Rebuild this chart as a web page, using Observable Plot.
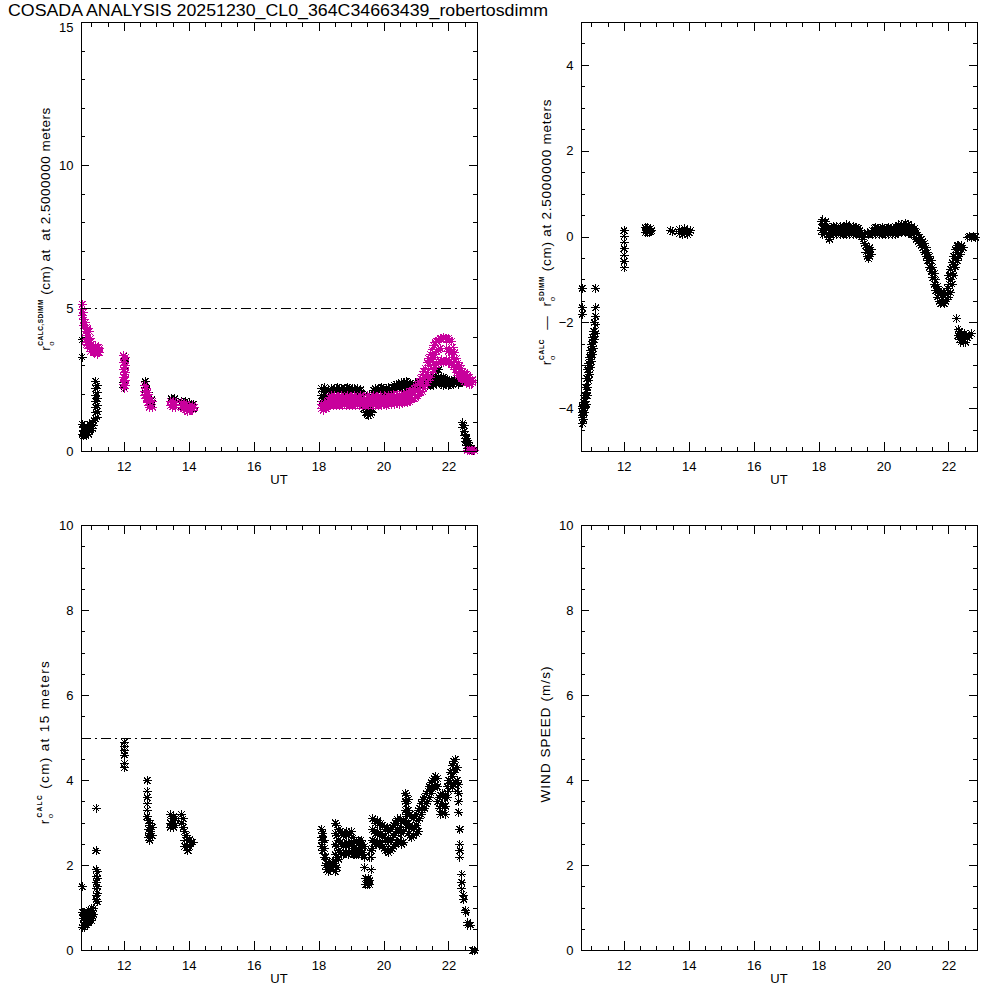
<!DOCTYPE html>
<html><head><meta charset="utf-8">
<script src="https://cdn.jsdelivr.net/npm/d3@7"></script>
<script src="https://cdn.jsdelivr.net/npm/@observablehq/plot@0.6"></script>
<style>
body{margin:0;background:#fff;}
#page{position:relative;width:1000px;height:1000px;background:#fff;overflow:hidden;}
.panel{position:absolute;}
</style></head><body><div id="page"></div>
<script>
// ---------------- data ----------------
const titleText = "COSADA ANALYSIS 20251230_CL0_364C34663439_robertosdimm";
const utDomain = [10.68, 22.88];
const utTicks = [12, 14, 16, 18, 20, 22];
const threshold = 5;

// r0 CALC at 2.5 m : [UT, values...]
const r0Calc25 = [
 [10.70, 3.9, 3.3, 0.95, 0.6],[10.74, 0.55, 0.75],[10.78, 0.6, 0.85, 0.7],[10.82, 0.55, 0.75],
 [10.86, 0.65, 0.85],[10.90, 0.6, 0.8],[10.94, 0.7, 0.95],[10.98, 0.75, 0.9],[11.02, 0.8, 1.0],
 [11.06, 0.9, 1.1],[11.12, 2.45, 2.2, 1.95, 1.75, 1.55, 1.35, 1.15],[11.16, 2.3, 2.05, 1.85, 1.6, 1.4, 1.2],
 [11.98, 3.35, 3.1, 2.85, 2.6, 2.4, 2.25],[12.02, 3.25, 3.0, 2.7, 2.5, 2.3],
 [12.64, 2.45, 2.25, 2.05],[12.69, 2.2, 2.0, 1.85],[12.74, 2.05, 1.85],[12.79, 1.9, 1.7],[12.84, 1.8, 1.65],
 [13.44, 1.85, 1.7],[13.50, 1.8, 1.65],[13.56, 1.85, 1.7],
 [13.76, 1.75, 1.6],[13.82, 1.7, 1.55],[13.88, 1.75, 1.6],[13.94, 1.65, 1.5],[14.00, 1.7, 1.55],
 [14.06, 1.6, 1.5],[14.12, 1.65, 1.5],
 [18.08, 2.2, 1.95, 1.75],[18.13, 2.1, 1.85],[18.18, 2.25, 2.0, 1.8],[18.23, 2.1, 1.9, 1.7],
 [18.28, 2.15, 1.85],[18.33, 2.05],[18.38, 2.1, 2.2],[18.43, 2.15, 2.05],[18.48, 2.2, 2.1],
 [18.53, 2.1, 2.2],[18.58, 2.15, 2.25],[18.63, 2.2, 2.1],[18.68, 2.1, 2.2],[18.73, 2.15, 2.05],
 [18.78, 2.2, 2.1],[18.83, 2.1, 2.2],[18.88, 2.15, 2.25],[18.93, 2.1, 2.2],[18.98, 2.15, 2.05],
 [19.03, 2.2, 2.1],[19.08, 2.1, 2.2],[19.13, 2.15, 2.05],[19.18, 2.2, 2.1],[19.23, 2.1, 2.15],
 [19.28, 2.05, 2.15],[19.33, 2.0, 1.9],[19.38, 1.95, 1.5],[19.43, 1.55, 1.35],[19.48, 1.5, 1.3, 1.6],
 [19.53, 1.4, 1.25, 1.55],[19.58, 1.45, 1.3],[19.63, 1.5, 1.35, 2.0],[19.68, 2.05, 2.15],
 [19.73, 2.1, 2.2],[19.78, 2.15, 2.05],[19.83, 2.2, 2.1],[19.88, 2.1, 2.2],[19.93, 2.15, 2.25],
 [19.98, 2.1, 2.2],[20.03, 2.15, 2.05],[20.08, 2.2, 2.1],[20.13, 2.1, 2.25],[20.18, 2.15, 2.2],
 [20.23, 2.2, 2.1],[20.28, 2.15, 2.25],[20.33, 2.2, 2.3],[20.38, 2.25, 2.35],[20.43, 2.3, 2.2],
 [20.48, 2.35, 2.25],[20.53, 2.3, 2.4],[20.58, 2.35, 2.25],[20.63, 2.4, 2.3],[20.68, 2.35, 2.45],
 [20.73, 2.3, 2.4],[20.78, 2.25, 2.35],[20.83, 2.2, 2.3],[20.88, 2.25, 2.35],[20.93, 2.2, 2.3],
 [20.98, 2.3, 2.4],[21.03, 2.25, 2.35],[21.08, 2.3, 2.4],[21.13, 2.35, 2.25],[21.18, 2.3, 2.45],
 [21.23, 2.4, 2.3],[21.28, 2.35, 2.5],[21.33, 2.4, 2.3],[21.38, 2.45, 2.35, 2.6],[21.43, 2.4, 2.3, 2.55],
 [21.48, 2.5, 2.35],[21.53, 2.45, 2.3, 2.65],[21.58, 2.4, 2.55],[21.63, 2.5, 2.35, 2.75],
 [21.68, 2.45, 2.6, 2.85],[21.73, 2.4, 2.55],[21.78, 2.35, 2.5],[21.83, 2.45, 2.3, 2.6],
 [21.88, 2.4, 2.55],[21.93, 2.35, 2.5],[21.98, 2.4, 2.3],[22.03, 2.45, 2.35],[22.08, 2.4, 2.5],
 [22.13, 2.45, 2.35],[22.18, 2.5, 2.4],[22.23, 2.4, 2.45],[22.28, 2.45, 2.35],[22.33, 2.4, 2.5],
 [22.38, 2.45, 2.4],[22.43, 2.4, 1.0, 0.85],[22.47, 0.9, 0.7, 0.55],[22.51, 0.6, 0.45, 0.35],
 [22.55, 0.45, 0.3, 0.2],[22.60, 0.3, 0.2, 0.1],[22.65, 0.2, 0.1],[22.70, 0.1, 0.05],[22.75, 0.05]
];

// r0 SDIMM at 2.5 m : [UT, values...]
const r0Sdimm25 = [
 [10.70, 5.15, 4.95, 4.75],[10.73, 4.85, 4.6, 4.4],[10.76, 4.6, 4.4],[10.80, 4.5, 4.2, 3.9],
 [10.84, 4.35, 4.05, 3.75],[10.88, 4.3, 4.0, 3.7],[10.92, 4.2, 3.9, 3.6],[10.96, 3.95, 3.7, 3.5],
 [11.00, 3.75, 3.55],[11.04, 3.65, 3.45],[11.08, 3.6, 3.45],[11.12, 3.7, 3.5],[11.16, 3.55, 3.4],
 [11.20, 3.65, 3.45],[11.24, 3.6, 3.45],
 [11.97, 3.35, 3.1, 2.85, 2.6, 2.35],[12.01, 3.2, 2.95, 2.7, 2.45, 2.2],[12.04, 3.3, 3.0, 2.75, 2.5, 2.3],
 [12.62, 2.3, 2.1, 1.95],[12.67, 2.2, 2.0, 1.85],[12.72, 2.05, 1.85, 1.7],[12.77, 1.9, 1.7, 1.55],
 [12.82, 1.8, 1.6],[12.87, 1.75, 1.55],
 [13.42, 1.75, 1.6],[13.47, 1.7, 1.55],[13.52, 1.75, 1.6],[13.57, 1.7, 1.55],
 [13.76, 1.7, 1.55],[13.81, 1.65, 1.5],[13.86, 1.6, 1.45],[13.91, 1.65, 1.5],[13.96, 1.55, 1.4],
 [14.01, 1.6, 1.45],[14.06, 1.55, 1.45],[14.11, 1.6, 1.45],[14.16, 1.55],
 [18.08, 1.5, 1.65],[18.13, 1.45, 1.6],[18.18, 1.55, 1.7],[18.23, 1.5, 1.6],[18.28, 1.55, 1.7],
 [18.33, 1.6, 1.75, 1.9],[18.38, 1.65, 1.8, 1.95],[18.43, 1.6, 1.75, 1.9],[18.48, 1.65, 1.8, 1.95],
 [18.53, 1.6, 1.75, 1.9],[18.58, 1.65, 1.8],[18.63, 1.6, 1.75, 1.9],[18.68, 1.65, 1.8, 1.95],
 [18.73, 1.6, 1.75, 1.9],[18.78, 1.65, 1.8],[18.83, 1.6, 1.75, 1.9],[18.88, 1.65, 1.8, 1.95],
 [18.93, 1.6, 1.75, 1.9],[18.98, 1.65, 1.8],[19.03, 1.6, 1.75, 1.9],[19.08, 1.65, 1.8, 1.95],
 [19.13, 1.6, 1.75, 1.9],[19.18, 1.65, 1.8],[19.23, 1.6, 1.75, 1.9],[19.28, 1.65, 1.8, 1.95],
 [19.33, 1.6, 1.75],[19.38, 1.65, 1.8, 1.9],[19.43, 1.6, 1.75],[19.48, 1.65, 1.8, 1.95],
 [19.53, 1.6, 1.75, 1.9],[19.58, 1.65, 1.8],[19.63, 1.6, 1.75, 1.9],[19.68, 1.65, 1.8, 1.95],
 [19.73, 1.6, 1.75, 1.9],[19.78, 1.65, 1.8],[19.83, 1.6, 1.75, 1.9],[19.88, 1.65, 1.8, 1.95],
 [19.93, 1.6, 1.75, 1.9],[19.98, 1.65, 1.8],[20.03, 1.65, 1.8, 1.95],[20.08, 1.6, 1.75, 1.9],
 [20.13, 1.65, 1.8, 1.95],[20.18, 1.7, 1.85],[20.23, 1.65, 1.8, 1.95],[20.28, 1.7, 1.85, 2.0],
 [20.33, 1.65, 1.8, 1.95],[20.38, 1.7, 1.85],[20.43, 1.7, 1.85, 2.0],[20.48, 1.65, 1.8, 1.95],
 [20.53, 1.7, 1.85, 2.0],[20.58, 1.75, 1.9],[20.63, 1.7, 1.85, 2.0],[20.68, 1.75, 1.9, 2.05],
 [20.73, 1.7, 1.85, 2.0],[20.78, 1.75, 1.9, 2.05],[20.83, 1.8, 1.95, 2.1],[20.88, 1.85, 2.0, 2.15],
 [20.93, 1.85, 2.05, 2.2],[20.98, 1.9, 2.1, 2.3],[21.03, 1.95, 2.15, 2.35],[21.08, 2.0, 2.2, 2.45],
 [21.13, 2.05, 2.3, 2.55],[21.18, 2.1, 2.4, 2.7],[21.23, 2.2, 2.5, 2.8],[21.28, 2.3, 2.6, 2.9],
 [21.33, 2.4, 2.75, 3.1],[21.38, 2.5, 2.85, 3.25],[21.43, 2.6, 3.0, 3.4],[21.48, 2.75, 3.15, 3.55],
 [21.53, 2.85, 3.3, 3.7],[21.58, 2.95, 3.4, 3.8],[21.63, 3.05, 3.5, 3.85],[21.68, 3.1, 3.55, 3.9],
 [21.73, 3.15, 3.6, 3.95],[21.78, 3.2, 3.95],[21.83, 3.1, 4.0],[21.88, 3.15, 3.95],
 [21.93, 3.2, 3.6, 3.9],[21.98, 3.1, 3.5, 3.95],[22.03, 3.15, 3.55, 3.9],[22.08, 3.05, 3.45, 3.85],
 [22.13, 2.95, 3.3, 3.65],[22.18, 2.85, 3.15, 3.45],[22.23, 2.75, 3.0, 3.25],[22.28, 2.65, 2.9, 3.1],
 [22.33, 2.6, 2.8, 3.0],[22.38, 2.55, 2.7, 2.9],[22.43, 2.5, 2.65, 2.8],[22.48, 2.45, 2.6, 2.75],
 [22.53, 2.4, 2.55, 2.7],[22.58, 2.4, 2.5, 2.65],[22.63, 2.35, 2.5, 2.6],[22.68, 2.35, 2.45],
 [22.73, 2.4, 2.5],
 [22.56, 0.04],[22.62, 0.05],[22.68, 0.03],[22.74, 0.05],[22.80, 0.03]
];

// r0 CALC - r0 SDIMM at 2.5 m : [UT, values...]
const r0Diff25 = [
 [10.70, -1.2, -1.65, -1.8, -3.95, -4.15],[10.72, -4.0, -4.2, -4.35, -4.1],[10.75, -3.85, -4.05, -4.25],
 [10.78, -3.7, -3.9, -4.1],[10.81, -3.5, -3.7, -3.9],[10.84, -3.3, -3.5, -3.7, -3.9],
 [10.87, -3.1, -3.3, -3.5, -3.7],[10.90, -2.95, -3.15, -3.35],[10.93, -2.8, -3.0, -3.2],
 [10.96, -2.65, -2.85, -3.05],[10.99, -2.5, -2.7, -2.9],[11.02, -2.35, -2.55, -2.75],
 [11.05, -2.2, -2.4, -2.6],[11.08, -2.0, -2.2, -2.4],[11.12, -1.2, -1.65, -1.85, -2.05, -2.25],
 [11.99, 0.15, 0.02, -0.12, -0.27, -0.42, -0.57, -0.72],
 [12.64, 0.22, 0.1],[12.68, 0.15, 0.2],[12.72, 0.1, 0.22],[12.76, 0.18, 0.1],[12.80, 0.2, 0.12],[12.84, 0.15],
 [13.42, 0.15],[13.48, 0.12],
 [13.70, 0.18, 0.08],[13.75, 0.12],[13.80, 0.15, 0.05],[13.85, 0.1, 0.2],[13.90, 0.12],[13.95, 0.15, 0.05],
 [14.00, 0.1],[14.04, 0.15],
 [18.08, 0.35, 0.15],[18.12, 0.4, 0.2, 0.05],[18.16, 0.3, 0.1],[18.20, 0.35, 0.15],[18.24, 0.25, 0.05],
 [18.28, 0.2, 0.0],[18.32, 0.1, -0.05],[18.36, 0.05, 0.15],[18.40, 0.1, 0.2],[18.45, 0.05, 0.15, 0.25],
 [18.50, 0.1, 0.2],[18.55, 0.05, 0.15, 0.25],[18.60, 0.1, 0.2],[18.65, 0.05, 0.15, 0.25],[18.70, 0.1, 0.2],
 [18.75, 0.05, 0.15, 0.25],[18.80, 0.1, 0.2],[18.85, 0.05, 0.15, 0.28],[18.90, 0.1, 0.2],
 [18.95, 0.05, 0.15, 0.25],[19.00, 0.1, 0.2],[19.05, 0.05, 0.15, 0.25],[19.10, 0.1, 0.2],
 [19.15, 0.05, 0.15, 0.22],[19.20, 0.1, 0.2],[19.25, 0.05, 0.15],[19.30, 0.0, 0.1],[19.35, 0.05, -0.05],
 [19.40, -0.15, 0.05],[19.44, -0.2, -0.35],[19.48, -0.25, -0.45, 0.1],[19.52, -0.3, -0.5, 0.05],
 [19.56, -0.25, -0.45],[19.60, -0.3, -0.4, 0.1],[19.65, 0.05, 0.15],[19.70, 0.1, 0.2],
 [19.75, 0.05, 0.15, 0.22],[19.80, 0.1, 0.2],[19.85, 0.05, 0.15],[19.90, 0.1, 0.2],
 [19.95, 0.05, 0.15, 0.22],[20.00, 0.1, 0.2],[20.05, 0.05, 0.15],[20.10, 0.1, 0.2],
 [20.15, 0.05, 0.15, 0.22],[20.20, 0.1, 0.2],[20.25, 0.05, 0.15],[20.30, 0.1, 0.2],
 [20.35, 0.05, 0.15, 0.25],[20.40, 0.1, 0.2],[20.45, 0.1, 0.2, 0.28],[20.50, 0.12, 0.22],
 [20.55, 0.1, 0.2, 0.3],[20.60, 0.15, 0.25],[20.65, 0.1, 0.22, 0.32],[20.70, 0.12, 0.25],
 [20.75, 0.1, 0.2, 0.3],[20.80, 0.1, 0.2],[20.85, 0.05, 0.15, 0.25],[20.90, 0.05, 0.15],
 [20.95, 0.0, 0.1, 0.2],[21.00, -0.05, 0.1],[21.05, -0.1, 0.05],[21.10, -0.15, 0.0],
 [21.15, -0.2, -0.05],[21.20, -0.25, -0.1],[21.25, -0.35, -0.15],[21.30, -0.45, -0.25],
 [21.35, -0.55, -0.35],[21.40, -0.7, -0.45],[21.45, -0.8, -0.55],[21.50, -0.95, -0.7],
 [21.55, -1.1, -0.85],[21.60, -1.25, -1.0],[21.65, -1.4, -1.15],[21.70, -1.5, -1.25],
 [21.75, -1.55, -1.3],[21.80, -1.5, -1.35],[21.85, -1.55, -1.3],[21.90, -1.5, -1.35],
 [21.95, -1.45, -1.2],[22.00, -1.4, -1.1, -0.9],[22.05, -1.3, -1.0, -0.75],[22.10, -1.1, -0.85, -0.6],
 [22.15, -0.9, -0.65, -0.45],[22.20, -0.7, -0.5, -0.3],[22.25, -0.55, -0.35, -0.2],
 [22.30, -0.45, -0.3, -0.2],[22.35, -0.4, -0.25],[22.40, -0.3, -0.2],[22.44, -0.25],
 [22.24, -1.9],[22.28, -2.15, -2.3],[22.32, -2.2, -2.4],[22.36, -2.3, -2.45],[22.40, -2.25, -2.4],
 [22.44, -2.3, -2.45],[22.48, -2.25, -2.4],[22.52, -2.3, -2.45],[22.56, -2.35],[22.62, -2.3],[22.70, -2.25],
 [22.58, 0.0],[22.64, 0.02],[22.70, 0.0],[22.76, 0.02],[22.82, 0.0]
];

// r0 CALC at 15 m : [UT, values...]
const r0Calc15 = [
 [10.70, 1.5, 0.9, 0.55],[10.73, 0.6, 0.75, 0.9],[10.76, 0.55, 0.7],[10.79, 0.6, 0.8],[10.82, 0.65, 0.85],
 [10.85, 0.6, 0.75, 0.9],[10.88, 0.7, 0.85],[10.91, 0.65, 0.8, 0.95],[10.94, 0.7, 0.85],[10.97, 0.75, 0.9],
 [11.00, 0.7, 0.85, 1.0],[11.03, 0.8, 0.95],[11.06, 0.85, 1.0],
 [11.13, 3.35, 2.35, 1.9, 1.75, 1.6, 1.45, 1.3, 1.2],[11.16, 1.85, 1.7, 1.5, 1.35, 1.15],
 [12.00, 4.9, 4.8, 4.7, 4.6, 4.4, 4.3],
 [12.70, 4.0, 3.75, 3.6, 3.45, 3.3, 3.15],[12.74, 3.05, 2.85, 2.65],[12.78, 2.95, 2.75, 2.6],
 [12.82, 3.0, 2.8, 2.65],[12.86, 2.9, 2.7],
 [13.42, 3.2, 3.0, 2.9],[13.47, 3.1, 2.95],[13.52, 3.15, 3.0, 2.9],[13.57, 3.1, 2.95],
 [13.76, 3.2, 3.0],[13.81, 3.1, 2.9],[13.86, 2.8, 2.6, 2.45],[13.91, 2.7, 2.5],[13.96, 2.65, 2.45, 2.35],
 [14.01, 2.6, 2.45],[14.06, 2.55, 2.5],[14.12, 2.55],
 [18.08, 2.85, 2.65, 2.45],[18.12, 2.75, 2.55, 2.35],[18.16, 2.6, 2.4, 2.2],[18.20, 2.2, 2.0],
 [18.24, 2.05, 1.9],[18.28, 2.0, 1.85],[18.32, 1.95, 2.1],[18.36, 1.9, 2.0],[18.40, 2.05, 1.95],
 [18.44, 2.0, 2.1],[18.50, 3.0, 2.75, 2.5, 2.25, 2.0, 1.85],[18.55, 2.95, 2.7, 2.45, 2.2, 1.95],
 [18.60, 2.85, 2.6, 2.35, 2.15],[18.65, 2.8, 2.55, 2.3],[18.70, 2.75, 2.5, 2.25],[18.75, 2.7, 2.45, 2.25],
 [18.80, 2.75, 2.5, 2.3],[18.85, 2.8, 2.55, 2.3],[18.90, 2.7, 2.45, 2.25],[18.95, 2.75, 2.5, 2.3],
 [19.00, 2.8, 2.55, 2.3],[19.05, 2.65, 2.4, 2.25],[19.10, 2.6, 2.4, 2.25],[19.15, 2.55, 2.35, 2.25],
 [19.20, 2.6, 2.4, 2.25],[19.25, 2.55, 2.35],[19.30, 2.6, 2.4, 2.25],[19.35, 2.5, 2.3],
 [19.40, 2.45, 2.2, 1.95],[19.44, 1.7, 1.55],[19.48, 1.65, 1.55],[19.52, 1.7, 1.6],
 [19.56, 1.65, 1.55, 2.2],[19.60, 2.35, 2.2, 1.9],[19.65, 3.1, 2.85, 2.6, 2.4],[19.70, 3.05, 2.8, 2.55],
 [19.75, 3.0, 2.75, 2.5],[19.80, 3.05, 2.8, 2.55],[19.85, 2.95, 2.7, 2.5],[19.90, 3.0, 2.75, 2.5],
 [19.95, 2.95, 2.7, 2.45],[20.00, 2.9, 2.65, 2.4],[20.05, 2.85, 2.6, 2.35],[20.10, 2.9, 2.6, 2.35],
 [20.15, 2.8, 2.55, 2.3],[20.20, 2.85, 2.6, 2.35],[20.25, 2.9, 2.65, 2.4],[20.30, 2.95, 2.7, 2.45],
 [20.35, 3.0, 2.75, 2.5],[20.40, 3.1, 2.85, 2.55],[20.45, 3.05, 2.8, 2.55],[20.50, 3.1, 2.85, 2.6],
 [20.55, 3.0, 2.75, 2.5],[20.60, 3.05, 2.8, 2.55],[20.65, 3.7, 3.5, 3.3, 3.05],[20.70, 3.65, 3.45, 3.2, 2.9],
 [20.75, 3.55, 3.3, 3.0, 2.75],[20.80, 3.2, 2.95, 2.7],[20.85, 3.15, 2.9, 2.65],[20.90, 3.1, 2.85, 2.7],
 [20.95, 3.15, 2.9],[21.00, 3.2, 2.95, 2.75],[21.05, 3.3, 3.05, 2.8],[21.10, 3.35, 3.1],[21.15, 3.45, 3.2],
 [21.20, 3.55, 3.3],[21.25, 3.6, 3.35],[21.30, 3.7, 3.45],[21.35, 3.75, 3.5],[21.40, 3.85, 3.6],
 [21.45, 3.95, 3.7],[21.50, 4.0, 3.8],[21.55, 4.05, 3.85],[21.60, 4.1, 3.9],[21.65, 4.05, 3.85, 3.5],
 [21.70, 3.6, 3.35],[21.75, 3.65, 3.4, 3.2],[21.80, 3.7, 3.45, 3.25],[21.85, 3.6, 3.35],
 [21.90, 3.65, 3.4, 3.2],[21.95, 3.85, 3.6],[22.00, 4.0, 3.75],[22.05, 4.2, 3.95],[22.10, 4.35, 4.1, 3.85],
 [22.15, 4.45, 4.2, 3.9],[22.20, 4.5, 4.25, 3.95],[22.25, 4.3, 4.0, 3.75],[22.30, 3.9, 3.7, 3.5, 3.25],
 [22.34, 2.85, 2.5, 2.35, 2.2],[22.40, 1.8, 1.6, 1.45],[22.46, 1.3, 1.2],[22.52, 0.95, 0.9],
 [22.58, 0.65, 0.6],[22.66, 0.6],[22.74, 0.0],[22.80, 0.0]
];

// wind speed: no samples in this run
const windSpeed = [];

// ---------------- helpers ----------------
const FONT = '"Liberation Sans", Arial, sans-serif';
const MAGENTA = "#c8009c";
const toPoints = rows => rows.flatMap(([t, ...vs]) => vs.map(v => ({t, v})));

const asterisk = {
  draw(ctx, size) {
    const r = Math.sqrt(size / Math.PI), d = r * 0.72;
    ctx.moveTo(-r, 0); ctx.lineTo(r, 0);
    ctx.moveTo(0, -r); ctx.lineTo(0, r);
    ctx.moveTo(-d, -d); ctx.lineTo(d, d);
    ctx.moveTo(-d, d); ctx.lineTo(d, -d);
  }
};
const pts = (rows, color) => Plot.dot(toPoints(rows), {
  x: "t", y: "v", symbol: asterisk, r: 4.5, stroke: color, fill: "none", strokeWidth: 1,
  shapeRendering: "crispEdges"
});

const W = 500, H = 500, ML = 81, MR = 23;
const minus = d => d < 0 ? "\u2212" + (-d) : String(d);

function panel({left, top, mt, mb, yDomain, yTicks, yMinorStep, marks, label, topLabelDy = 0}) {
  const innerW = W - ML - MR, innerH = H - mt - mb;
  const xMinor = d3.range(11, 22.9, 0.5).filter(v => !utTicks.includes(v));
  const yMinor = d3.range(yDomain[0], yDomain[1] + 1e-9, yMinorStep).filter(v => !yTicks.some(t => Math.abs(t - v) < 1e-9));
  const xt = 9, yt = 8;
  const yTop = yTicks[yTicks.length - 1];
  const svg = Plot.plot({
    width: W, height: H, marginLeft: ML, marginRight: MR, marginTop: mt, marginBottom: mb,
    x: {domain: utDomain}, y: {domain: yDomain},
    style: {fontFamily: FONT, fontSize: "13px", color: "black", background: "transparent", overflow: "visible"},
    marks: [
      ...marks,
      Plot.frame({stroke: "black", shapeRendering: "crispEdges"}),
      Plot.tickX(utTicks, {x: d => d, insetTop: innerH - xt, stroke: "black", shapeRendering: "crispEdges"}),
      Plot.tickX(utTicks, {x: d => d, insetBottom: innerH - xt, stroke: "black", shapeRendering: "crispEdges"}),
      Plot.tickX(xMinor, {x: d => d, insetTop: innerH - xt / 2, stroke: "black", shapeRendering: "crispEdges"}),
      Plot.tickX(xMinor, {x: d => d, insetBottom: innerH - xt / 2, stroke: "black", shapeRendering: "crispEdges"}),
      Plot.tickY(yTicks, {y: d => d, insetRight: innerW - yt, stroke: "black", shapeRendering: "crispEdges"}),
      Plot.tickY(yTicks, {y: d => d, insetLeft: innerW - yt, stroke: "black", shapeRendering: "crispEdges"}),
      Plot.tickY(yMinor, {y: d => d, insetRight: innerW - yt / 2, stroke: "black", shapeRendering: "crispEdges"}),
      Plot.tickY(yMinor, {y: d => d, insetLeft: innerW - yt / 2, stroke: "black", shapeRendering: "crispEdges"}),
      Plot.axisX({ticks: utTicks, tickSize: 0, tickPadding: 10, label: null, tickFormat: d => String(d)}),
      Plot.axisY({ticks: topLabelDy ? yTicks.slice(0, -1) : yTicks, tickSize: 0, tickPadding: 8, label: null, tickFormat: minus}),
      ...(topLabelDy ? [Plot.axisY({ticks: [yTop], tickSize: 0, tickPadding: 8, label: null, tickFormat: minus, dy: topLabelDy})] : [])
    ]
  });
  const s = d3.select(svg);
  s.append("text").attr("x", ML + innerW / 2).attr("y", H - mb + 33)
    .attr("text-anchor", "middle").attr("font-size", 13).attr("fill", "black").text("UT");
  const tx = s.append("text")
    .attr("transform", `translate(${label.x},${label.cy}) rotate(-90)`)
    .attr("text-anchor", "middle").attr("font-size", 13.5).attr("fill", "black")
    .style("white-space", "pre");
  let nChars = 0;
  for (const p of label.parts) {
    const ts = tx.append("tspan").text(p.t);
    nChars += p.t.length;
    if (p.size) ts.attr("font-size", p.size);
    if (p.dx) ts.attr("dx", p.dx);
    if (p.dy) ts.attr("dy", p.dy);
    if (p.bold) ts.attr("font-weight", "bold");
  }
  const div = document.createElement("div");
  div.className = "panel";
  div.style.left = left + "px"; div.style.top = top + "px";
  div.appendChild(svg);
  document.getElementById("page").appendChild(div);
  // stretch the label to the length it has in the reference
  const len = tx.node().getComputedTextLength();
  if (label.length && len > 0) {
    const ls = (label.length - len) / Math.max(1, nChars - 1);
    tx.style("letter-spacing", ls.toFixed(2) + "px");
  }
}

// title
{
  const s = d3.select("#page").append("svg").attr("width", 1000).attr("height", 22)
    .style("position", "absolute").style("left", "0px").style("top", "0px");
  s.append("text").attr("x", 8).attr("y", 16).attr("font-family", FONT).attr("font-size", 16)
    .attr("textLength", 540).attr("lengthAdjust", "spacingAndGlyphs").attr("fill", "black").text(titleText);
}

const dash = "10,4,2,4";

panel({left: 0, top: 0, mt: 22, mb: 49, yDomain: [0, 15], yTicks: [0, 5, 10, 15], yMinorStep: 1, topLabelDy: 5,
  marks: [
    Plot.ruleY([threshold], {stroke: "black", strokeDasharray: dash, shapeRendering: "crispEdges"}),
    pts(r0Calc25, "black"),
    pts(r0Sdimm25, MAGENTA)
  ],
  label: {x: 50, cy: 229, length: 248, parts: [
    {t: "r"}, {t: "o", size: 8, dy: 4}, {t: "CALC,SDIMM", size: 6.5, dx: -5, dy: -11, bold: true},
    {t: " (cm) at  at 2.5000000 meters", dy: 7}
  ]}
});

panel({left: 500, top: 0, mt: 22, mb: 49, yDomain: [-5, 5], yTicks: [-4, -2, 0, 2, 4], yMinorStep: 0.5,
  marks: [pts(r0Diff25, "black")],
  label: {x: 51, cy: 232, length: 276, parts: [
    {t: "r"}, {t: "o", size: 8, dy: 4}, {t: "CALC", size: 6.5, dx: -5, dy: -11, bold: true},
    {t: "  \u2014  r", dy: 7}, {t: "o", size: 8, dy: 4}, {t: "SDIMM", size: 6.5, dx: -5, dy: -11, bold: true},
    {t: " (cm) at 2.5000000 meters", dy: 7}
  ]}
});

panel({left: 0, top: 500, mt: 25, mb: 50, yDomain: [0, 10], yTicks: [0, 2, 4, 6, 8, 10], yMinorStep: 0.5,
  marks: [
    Plot.ruleY([threshold], {stroke: "black", strokeDasharray: dash, shapeRendering: "crispEdges"}),
    pts(r0Calc15, "black")
  ],
  label: {x: 49, cy: 242, length: 168, parts: [
    {t: "r"}, {t: "o", size: 8, dy: 4}, {t: "CALC", size: 6.5, dx: -5, dy: -11, bold: true},
    {t: " (cm) at 15 meters", dy: 7}
  ]}
});

panel({left: 500, top: 500, mt: 25, mb: 50, yDomain: [0, 10], yTicks: [0, 2, 4, 6, 8, 10], yMinorStep: 0.5,
  marks: [Plot.dot(windSpeed, {x: "t", y: "v", symbol: asterisk, r: 4.5, stroke: "black"})],
  label: {x: 50, cy: 234, length: 136, parts: [{t: "WIND SPEED (m/s)"}]}
});
</script>
</body></html>
